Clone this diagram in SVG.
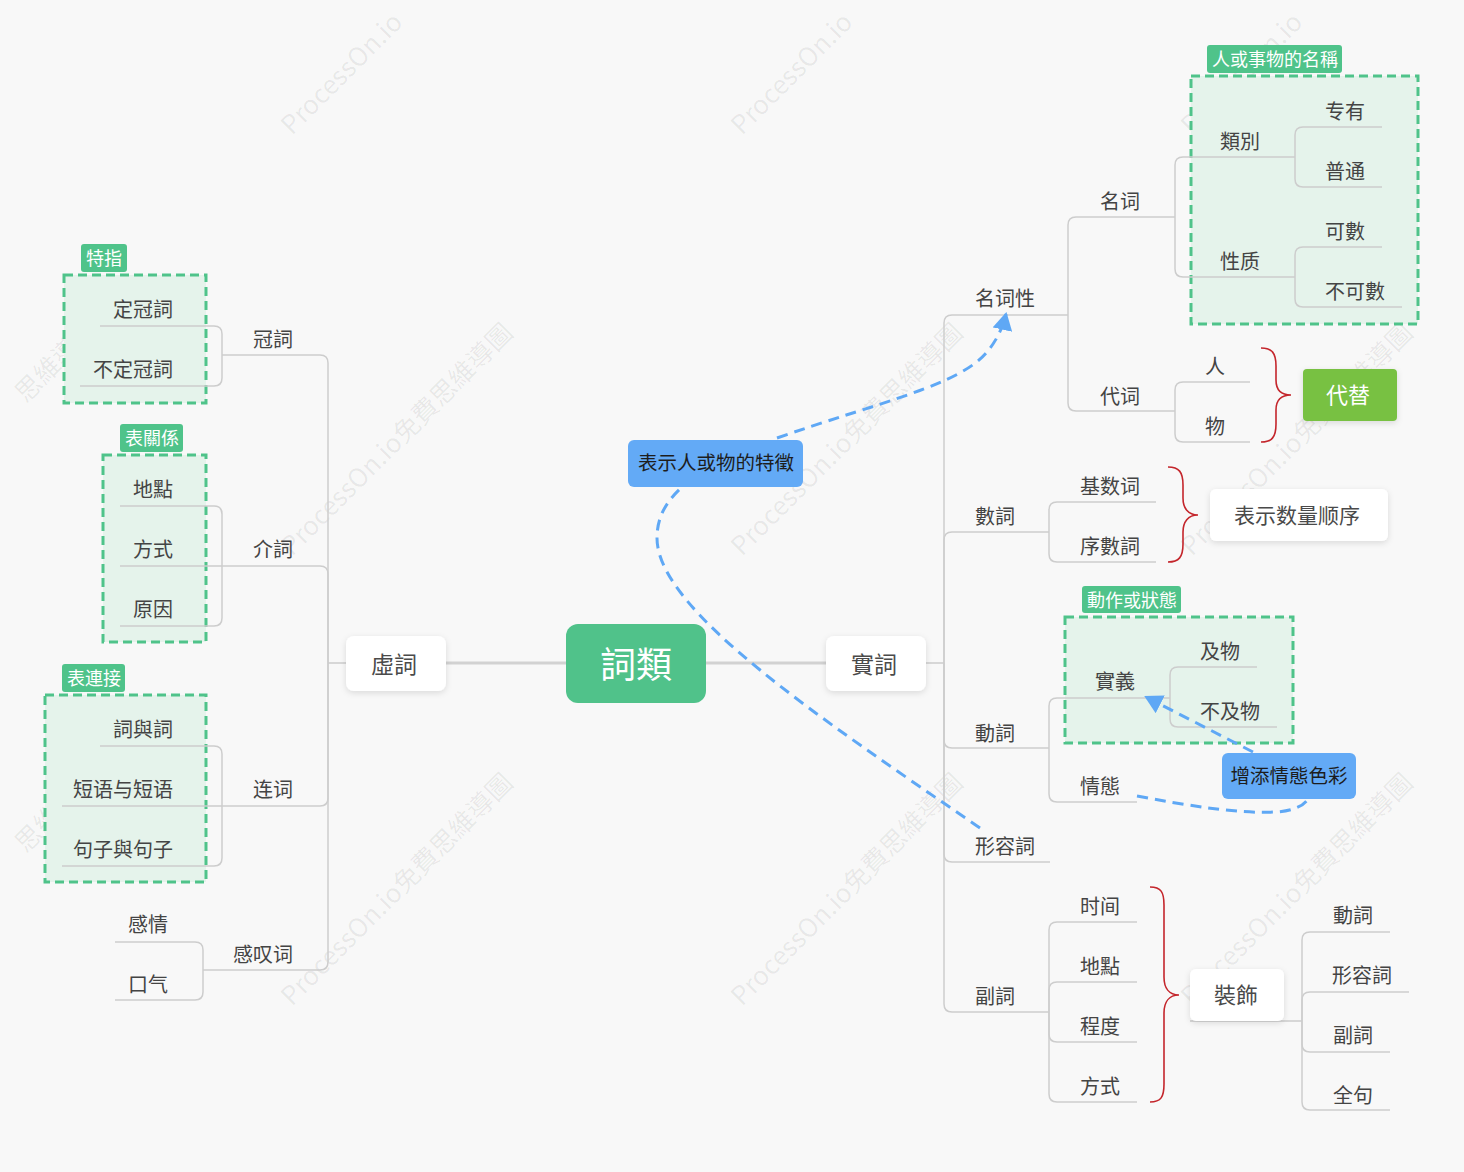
<svg xmlns="http://www.w3.org/2000/svg" width="1464" height="1172" viewBox="0 0 1464 1172">
<defs>
<filter id="sh" x="-20%" y="-20%" width="140%" height="150%"><feDropShadow dx="0" dy="2" stdDeviation="3" flood-color="#000" flood-opacity="0.12"/></filter>
<marker id="arr" markerUnits="userSpaceOnUse" markerWidth="18" markerHeight="20" viewBox="0 0 18 20" refX="16" refY="10" orient="auto"><path d="M0,0 L18,10 L0,20 z" fill="#5fa8f5"/></marker>
<style>
text{font-family:"Noto Sans CJK SC","Noto Sans CJK TC",sans-serif;text-anchor:middle}
.lb{font-size:20px;fill:#444}
.wm{font-size:26px;fill:#000;fill-opacity:0.07;text-anchor:start}
.tree path{fill:none;stroke:#cdcdcd;stroke-width:1.5}
.main{fill:none;stroke:#d2d2d2;stroke-width:3}
.rel{fill:none;stroke:#5fa8f5;stroke-width:3;stroke-dasharray:11 7}
.brace{fill:none;stroke:#c4262c;stroke-width:1.6}
.grp{fill:#e5f3eb;stroke:#4fc38a;stroke-width:3;stroke-dasharray:9 5}
.tag{fill:#4fc38a}
.tagt{font-size:18px;fill:#fff}
.wbox{fill:#fff;filter:url(#sh)}
.bbox{fill:#63aaf6}
.bt{font-size:19.5px;fill:#1d1d1d}
</style>
</defs>
<rect width="1464" height="1172" fill="#f8f8f8"/>
<g id="watermarks">
<text class="wm" transform="translate(292,136) rotate(-45)">ProcessOn.io</text>
<text class="wm" transform="translate(742,136) rotate(-45)">ProcessOn.io</text>
<text class="wm" transform="translate(1192,136) rotate(-45)">ProcessOn.io</text>
<text class="wm" transform="translate(26,404) rotate(-45)">思維導圖</text>
<text class="wm" transform="translate(292,557) rotate(-45)">ProcessOn.io免費思維導圖</text>
<text class="wm" transform="translate(742,557) rotate(-45)">ProcessOn.io免費思維導圖</text>
<text class="wm" transform="translate(1192,557) rotate(-45)">ProcessOn.io免費思維導圖</text>
<text class="wm" transform="translate(26,854) rotate(-45)">思維導圖</text>
<text class="wm" transform="translate(292,1007) rotate(-45)">ProcessOn.io免費思維導圖</text>
<text class="wm" transform="translate(742,1007) rotate(-45)">ProcessOn.io免費思維導圖</text>
<text class="wm" transform="translate(1192,1007) rotate(-45)">ProcessOn.io免費思維導圖</text>
</g>

<g id="groups">
<g id="grp-name"><rect class="grp" x="1191" y="76" width="227" height="248"/><rect class="tag" x="1207" y="45" width="135" height="28" rx="3"/><text class="tagt" x="1275" y="66">人或事物的名稱</text></g>
<g id="grp-action"><rect class="grp" x="1065" y="617" width="228" height="126"/><rect class="tag" x="1082" y="586" width="99" height="27" rx="3"/><text class="tagt" x="1132" y="607">動作或狀態</text></g>
<g id="grp-tezhi"><rect class="grp" x="64" y="275" width="142" height="128"/><rect class="tag" x="81" y="244" width="46" height="28" rx="3"/><text class="tagt" x="104" y="265">特指</text></g>
<g id="grp-rel"><rect class="grp" x="103" y="455" width="103" height="187"/><rect class="tag" x="120" y="424" width="63" height="28" rx="3"/><text class="tagt" x="152" y="445">表關係</text></g>
<g id="grp-conn"><rect class="grp" x="45" y="695" width="161" height="187"/><rect class="tag" x="62" y="664" width="63" height="28" rx="3"/><text class="tagt" x="94" y="685">表連接</text></g>
</g>

<g id="connectors">
<path class="main" d="M446,663 H566 M706,663 H826"/>
<g class="tree">
<path d="M926,663 H944"/>
<path d="M944,663 V323 Q944,315 952,315 H1068"/>
<path d="M944,663 V540 Q944,532 952,532 H1049"/>
<path d="M944,663 V740 Q944,748 952,748 H1049"/>
<path d="M944,663 V854 Q944,862 952,862 H1050"/>
<path d="M944,663 V1004 Q944,1012 952,1012 H1049"/>
<path d="M1068,315 V225 Q1068,217 1076,217 H1175"/>
<path d="M1068,315 V403 Q1068,411 1076,411 H1175"/>
<path d="M1175,217 V165 Q1175,157 1183,157 H1295"/>
<path d="M1175,217 V269 Q1175,277 1183,277 H1295"/>
<path d="M1295,157 V135 Q1295,127 1303,127 H1382"/>
<path d="M1295,157 V179 Q1295,187 1303,187 H1382"/>
<path d="M1295,277 V255 Q1295,247 1303,247 H1382"/>
<path d="M1295,277 V299 Q1295,307 1303,307 H1402"/>
<path d="M1175,411 V390 Q1175,382 1183,382 H1250"/>
<path d="M1175,411 V434 Q1175,442 1183,442 H1250"/>
<path d="M1049,532 V510 Q1049,502 1057,502 H1156"/>
<path d="M1049,532 V554 Q1049,562 1057,562 H1156"/>
<path d="M1049,748 V706 Q1049,698 1057,698 H1170"/>
<path d="M1049,748 V794 Q1049,802 1057,802 H1137"/>
<path d="M1170,698 V675 Q1170,667 1178,667 H1257"/>
<path d="M1170,698 V719 Q1170,727 1178,727 H1277"/>
<path d="M1049,1012 V930 Q1049,922 1057,922 H1137"/>
<path d="M1049,1012 V990 Q1049,982 1057,982 H1137"/>
<path d="M1049,1012 V1034 Q1049,1042 1057,1042 H1137"/>
<path d="M1049,1012 V1094 Q1049,1102 1057,1102 H1137"/>
<path d="M1190,1021 H1302"/>
<path d="M1302,1021 V940 Q1302,932 1310,932 H1390"/>
<path d="M1302,1021 V1000 Q1302,992 1310,992 H1409"/>
<path d="M1302,1021 V1044 Q1302,1052 1310,1052 H1390"/>
<path d="M1302,1021 V1102 Q1302,1110 1310,1110 H1390"/>
<path d="M346,663 H328"/>
<path d="M328,663 V363 Q328,355 320,355 H222"/>
<path d="M328,663 V574 Q328,566 320,566 H222"/>
<path d="M328,663 V798 Q328,806 320,806 H222"/>
<path d="M328,663 V962 Q328,970 320,970 H203"/>
<path d="M222,355 V334 Q222,326 214,326 H100"/>
<path d="M222,355 V378 Q222,386 214,386 H80"/>
<path d="M222,566 V514 Q222,506 214,506 H120"/>
<path d="M222,566 H120"/>
<path d="M222,566 V618 Q222,626 214,626 H120"/>
<path d="M222,806 V754 Q222,746 214,746 H100"/>
<path d="M222,806 H62"/>
<path d="M222,806 V858 Q222,866 214,866 H62"/>
<path d="M203,970 V950 Q203,942 195,942 H115"/>
<path d="M203,970 V992 Q203,1000 195,1000 H115"/>
</g>
<path class="brace" d="M1261,348 C1272,348 1276,353 1276,366 L1276,380 C1276,390 1281,395 1291,395 C1281,395 1276,400 1276,410 L1276,424 C1276,437 1272,442 1261,442"/>
<path class="brace" d="M1168,467 C1179,467 1183,472 1183,485 L1183,498 C1183,508 1188,515 1198,515 C1188,515 1183,522 1183,532 L1183,544 C1183,557 1179,562 1168,562"/>
<path class="brace" d="M1150,887 C1161,887 1164,892 1164,905 L1164,977 C1164,988 1169,995 1179,995 C1169,995 1164,1002 1164,1013 L1164,1084 C1164,1097 1161,1102 1150,1102"/>
<path class="rel" d="M980,828 C820,718 657,610 657,538 C657,515 668,500 682,487"/>
<path class="rel" d="M777,438 C880,402 960,385 987,352 C997,340 1003,327 1006,314" marker-end="url(#arr)"/>
<path class="rel" d="M1137,796 C1190,806 1240,814 1275,812 C1295,811 1304,805 1308,799"/>
<path class="rel" d="M1253,752 L1146,697" marker-end="url(#arr)"/>
</g>

<g id="nodes">
<g id="n-root"><rect x="566" y="624" width="140" height="79" rx="12" fill="#50c28a"/><text x="636" y="678" font-size="36" fill="#fff">詞類</text></g>
<g id="n-xuci"><rect class="wbox" x="346" y="636" width="100" height="55" rx="8"/><text x="394" y="673" font-size="23" fill="#4a4a4a">虛詞</text></g>
<g id="n-shici"><rect class="wbox" x="826" y="636" width="100" height="55" rx="8"/><text x="874" y="673" font-size="23" fill="#4a4a4a">實詞</text></g>
<g id="n-mingcixing"><text class="lb" x="1005" y="306">名词性</text></g>
<g id="n-mingci"><text class="lb" x="1120" y="209">名词</text></g>
<g id="n-daici"><text class="lb" x="1120" y="404">代词</text></g>
<g id="n-leibie"><text class="lb" x="1240" y="149">類別</text></g>
<g id="n-xingzhi"><text class="lb" x="1240" y="269">性质</text></g>
<g id="n-zhuanyou"><text class="lb" x="1345" y="119">专有</text></g>
<g id="n-putong"><text class="lb" x="1345" y="179">普通</text></g>
<g id="n-keshu"><text class="lb" x="1345" y="239">可數</text></g>
<g id="n-bukeshu"><text class="lb" x="1355" y="299">不可數</text></g>
<g id="n-ren"><text class="lb" x="1215" y="374">人</text></g>
<g id="n-wu"><text class="lb" x="1215" y="434">物</text></g>
<g id="n-daiti"><rect x="1303" y="369" width="94" height="52" rx="4" fill="#78c143" filter="url(#sh)"/><text x="1348" y="403" font-size="22" fill="#fff">代替</text></g>
<g id="n-shuci"><text class="lb" x="995" y="524">數詞</text></g>
<g id="n-jishuci"><text class="lb" x="1110" y="494">基数词</text></g>
<g id="n-xushuci"><text class="lb" x="1110" y="554">序數詞</text></g>
<g id="n-shuliang"><rect class="wbox" x="1210" y="489" width="178" height="52" rx="6"/><text x="1297" y="523" font-size="21" fill="#4a4a4a">表示数量顺序</text></g>
<g id="n-dongci"><text class="lb" x="995" y="741">動詞</text></g>
<g id="n-shiyi"><text class="lb" x="1115" y="689">實義</text></g>
<g id="n-qingtai"><text class="lb" x="1100" y="794">情態</text></g>
<g id="n-jiwu"><text class="lb" x="1220" y="659">及物</text></g>
<g id="n-bujiwu"><text class="lb" x="1230" y="719">不及物</text></g>
<g id="n-zengtian"><rect class="bbox" x="1222" y="753" width="134" height="46" rx="6"/><text class="bt" x="1289" y="783">增添情態色彩</text></g>
<g id="n-xingrongci"><text class="lb" x="1005" y="854">形容詞</text></g>
<g id="n-fuci"><text class="lb" x="995" y="1004">副詞</text></g>
<g id="n-shijian"><text class="lb" x="1100" y="914">时间</text></g>
<g id="n-didian2"><text class="lb" x="1100" y="974">地點</text></g>
<g id="n-chengdu"><text class="lb" x="1100" y="1034">程度</text></g>
<g id="n-fangshi2"><text class="lb" x="1100" y="1094">方式</text></g>
<g id="n-zhuangshi"><rect class="wbox" x="1190" y="969" width="94" height="52" rx="6"/><text x="1236" y="1003" font-size="22" fill="#4a4a4a">裝飾</text></g>
<g id="n-z-dongci"><text class="lb" x="1353" y="923">動詞</text></g>
<g id="n-z-xingrongci"><text class="lb" x="1362" y="983">形容詞</text></g>
<g id="n-z-fuci"><text class="lb" x="1353" y="1043">副詞</text></g>
<g id="n-quanju"><text class="lb" x="1353" y="1103">全句</text></g>
<g id="n-tezheng"><rect class="bbox" x="628" y="440" width="175" height="47" rx="6"/><text class="bt" x="716" y="470">表示人或物的特徵</text></g>
<g id="n-guanci"><text class="lb" x="273" y="347">冠詞</text></g>
<g id="n-dingguanci"><text class="lb" x="143" y="317">定冠詞</text></g>
<g id="n-budingguanci"><text class="lb" x="133" y="377">不定冠詞</text></g>
<g id="n-jieci"><text class="lb" x="273" y="557">介詞</text></g>
<g id="n-didian"><text class="lb" x="153" y="497">地點</text></g>
<g id="n-fangshi"><text class="lb" x="153" y="557">方式</text></g>
<g id="n-yuanyin"><text class="lb" x="153" y="617">原因</text></g>
<g id="n-lianci"><text class="lb" x="273" y="797">连词</text></g>
<g id="n-ciyuci"><text class="lb" x="143" y="737">詞與詞</text></g>
<g id="n-duanyu"><text class="lb" x="123" y="797">短语与短语</text></g>
<g id="n-juzi"><text class="lb" x="123" y="857">句子與句子</text></g>
<g id="n-gantanci"><text class="lb" x="263" y="962">感叹词</text></g>
<g id="n-ganqing"><text class="lb" x="148" y="932">感情</text></g>
<g id="n-kouqi"><text class="lb" x="148" y="992">口气</text></g>
</g>
</svg>
